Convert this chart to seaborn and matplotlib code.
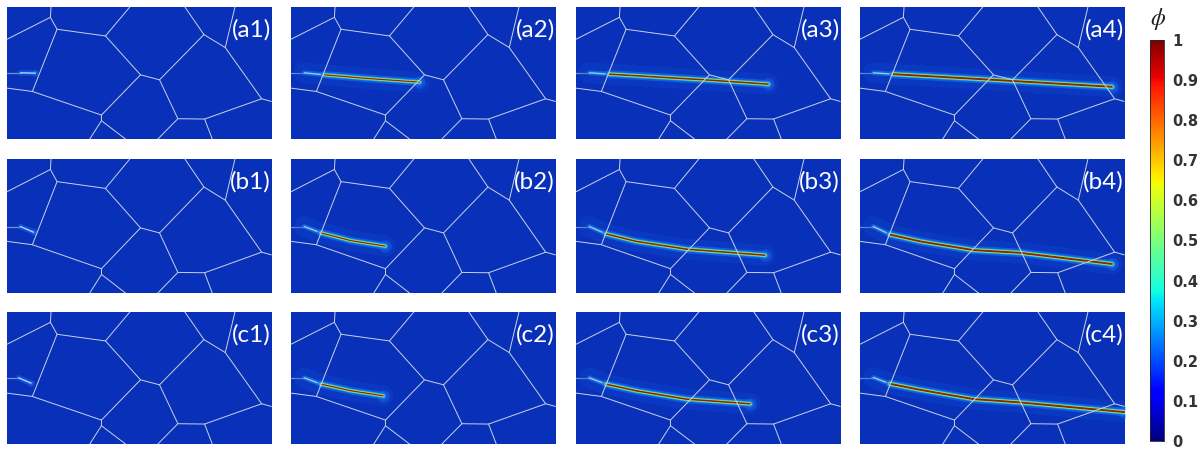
import matplotlib
matplotlib.use('Agg')
import matplotlib.pyplot as plt
import seaborn as sns

sns.set_theme(style='white')
plt.rcParams['font.family'] = ['Lato', 'DejaVu Sans']

# grain boundaries (shared by every panel)
boundaries = [
    [(152, 21), (150, 52), (170, 88), (315, 108), (388, 21)],
    [(20, 118), (150, 52)],
    [(170, 88), (96, 275), (20, 265)],
    [(96, 275), (303, 346), (420, 225), (315, 108)],
    [(420, 225), (477, 240), (610, 104), (553, 21)],
    [(610, 104), (674, 143), (703, 21)],
    [(674, 143), (783, 297), (812, 305)],
    [(477, 240), (532, 357), (612, 358), (783, 297)],
    [(612, 358), (635, 418)],
    [(532, 357), (472, 418)],
    [(303, 346), (303, 363), (268, 418)],
    [(303, 363), (375, 418)],
]

# crack paths per panel, first two points are the initial notch
crack_a1 = [(20, 219), (60, 219), (105, 220)]
crack_a2 = [(20, 219), (60, 219), (120, 225), (250, 236), (405, 247)]
crack_a3 = [(20, 219), (60, 219), (120, 223), (405, 240), (596, 253)]
crack_a4 = [(20, 219), (60, 219), (120, 223), (400, 239), (775, 261)]
crack_b1 = [(20, 221), (60, 221), (100, 238)]
crack_b2 = [(20, 221), (60, 221), (110, 240), (200, 263), (302, 279)]
crack_b3 = [(20, 221), (60, 221), (110, 243), (200, 265), (350, 288), (586, 306)]
crack_b4 = [(20, 221), (60, 221), (110, 245), (200, 265), (360, 291), (500, 299), (775, 332)]
crack_c1 = [(20, 219), (55, 219), (92, 235)]
crack_c2 = [(20, 219), (60, 219), (110, 238), (200, 258), (296, 273)]
crack_c3 = [(20, 219), (60, 219), (110, 238), (200, 258), (350, 283), (541, 297)]
crack_c4 = [(20, 218), (60, 218), (110, 237), (200, 255), (360, 283), (500, 293), (812, 322)]

labels = ['(a1)', '(a2)', '(a3)', '(a4)', '(b1)', '(b2)', '(b3)', '(b4)', '(c1)', '(c2)', '(c3)', '(c4)']
cracks = [crack_a1, crack_a2, crack_a3, crack_a4, crack_b1, crack_b2,
          crack_b3, crack_b4, crack_c1, crack_c2, crack_c3, crack_c4]
cbar_ticks = [0, 0.1, 0.2, 0.3, 0.4, 0.5, 0.6, 0.7, 0.8, 0.9, 1]
cbar_ticklabels = ['0', '0.1', '0.2', '0.3', '0.4', '0.5', '0.6', '0.7', '0.8', '0.9', '1']

W, H = 1200, 450
col_left = [7, 291, 576, 860]
col_width = 265
row_top = [7, 159, 312]
row_height = [132, 134, 132]
panel_blue = '#0930b8'
jet = plt.get_cmap('jet')


def line(ax, pts, color, lw, alpha=1.0):
    sns.lineplot(x=[p[0] for p in pts], y=[p[1] for p in pts], ax=ax, color=color,
                 linewidth=lw, alpha=alpha, estimator=None, sort=False, legend=False,
                 solid_capstyle='round', solid_joinstyle='round')


fig = plt.figure(figsize=(12, 4.5), dpi=100, facecolor='white')

for i, (lab, crack) in enumerate(zip(labels, cracks)):
    r, c = i // 4, i % 4
    ax = fig.add_axes([col_left[c] / W, 1 - (row_top[r] + row_height[r]) / H,
                       col_width / W, row_height[r] / H])
    ax.set_facecolor(panel_blue)

    # notch
    line(ax, crack[:2], '#6f92d2', 0.9)
    tip = crack[-1]
    if c == 0:
        # hardly started crack, only a pale streak
        line(ax, crack[1:], '#1f6ff0', 4, 0.45)
        line(ax, crack[1:], '#a8d8ff', 1.0)
        sns.scatterplot(x=[tip[0]], y=[tip[1]], ax=ax, s=25, color='#1f6ff0', alpha=0.3, linewidth=0)
    else:
        # thin start, full glow only further along; later stages are heavier
        start = crack[1:3]
        main = crack[2:]
        extra = 0.25 * (c - 1)
        line(ax, crack[1:], '#1350d8', 15, 0.25)
        line(ax, start, '#1f7cf0', 3.5, 0.6)
        line(ax, start, '#8fd0e8', 1.0)
        line(ax, main, '#0f6cf0', 5.5 + extra, 0.75)
        line(ax, main, '#19c8e8', 3 + extra, 0.85)
        line(ax, main, '#c4e04a', 1.9 + extra)
        line(ax, main, '#7a2c18', 0.9 + extra)
        sns.scatterplot(x=[tip[0]], y=[tip[1]], ax=ax, s=80, color='#1f7cf5', alpha=0.4, linewidth=0)
        sns.scatterplot(x=[tip[0]], y=[tip[1]], ax=ax, s=9, color='#e8fff0', linewidth=0)

    for seg in boundaries:
        line(ax, seg, '#c9d2e6', 0.7)

    ax.set_xlim(20, 814)
    ax.set_ylim(418, 21)
    ax.set_xticks([])
    ax.set_yticks([])
    ax.set(xlabel='', ylabel='')
    sns.despine(ax=ax, left=True, bottom=True)
    ax.text(0.995, 0.83, lab, transform=ax.transAxes, ha='right', va='center',
            color='white', fontsize=17.5)

# colorbar
cax = fig.add_axes([1150 / W, 1 - 441 / H, 14 / W, 401 / H])
sm = plt.cm.ScalarMappable(norm=plt.Normalize(0, 1), cmap=jet)
cb = fig.colorbar(sm, cax=cax, ticks=cbar_ticks)
cb.ax.set_yticklabels(cbar_ticklabels, fontweight='bold', color='#333333', fontsize=10.5,
                      family='DejaVu Sans')
cb.ax.tick_params(length=2.5, width=0.6, direction='in', pad=6, color='#333333', right=True)
cb.outline.set_linewidth(0.6)
fig.text(1158 / W, 1 - 19 / H, r'$\phi$', ha='center', va='center', fontsize=17,
         math_fontfamily='stix', color='#222222')

plt.savefig('out.png', dpi=100)
